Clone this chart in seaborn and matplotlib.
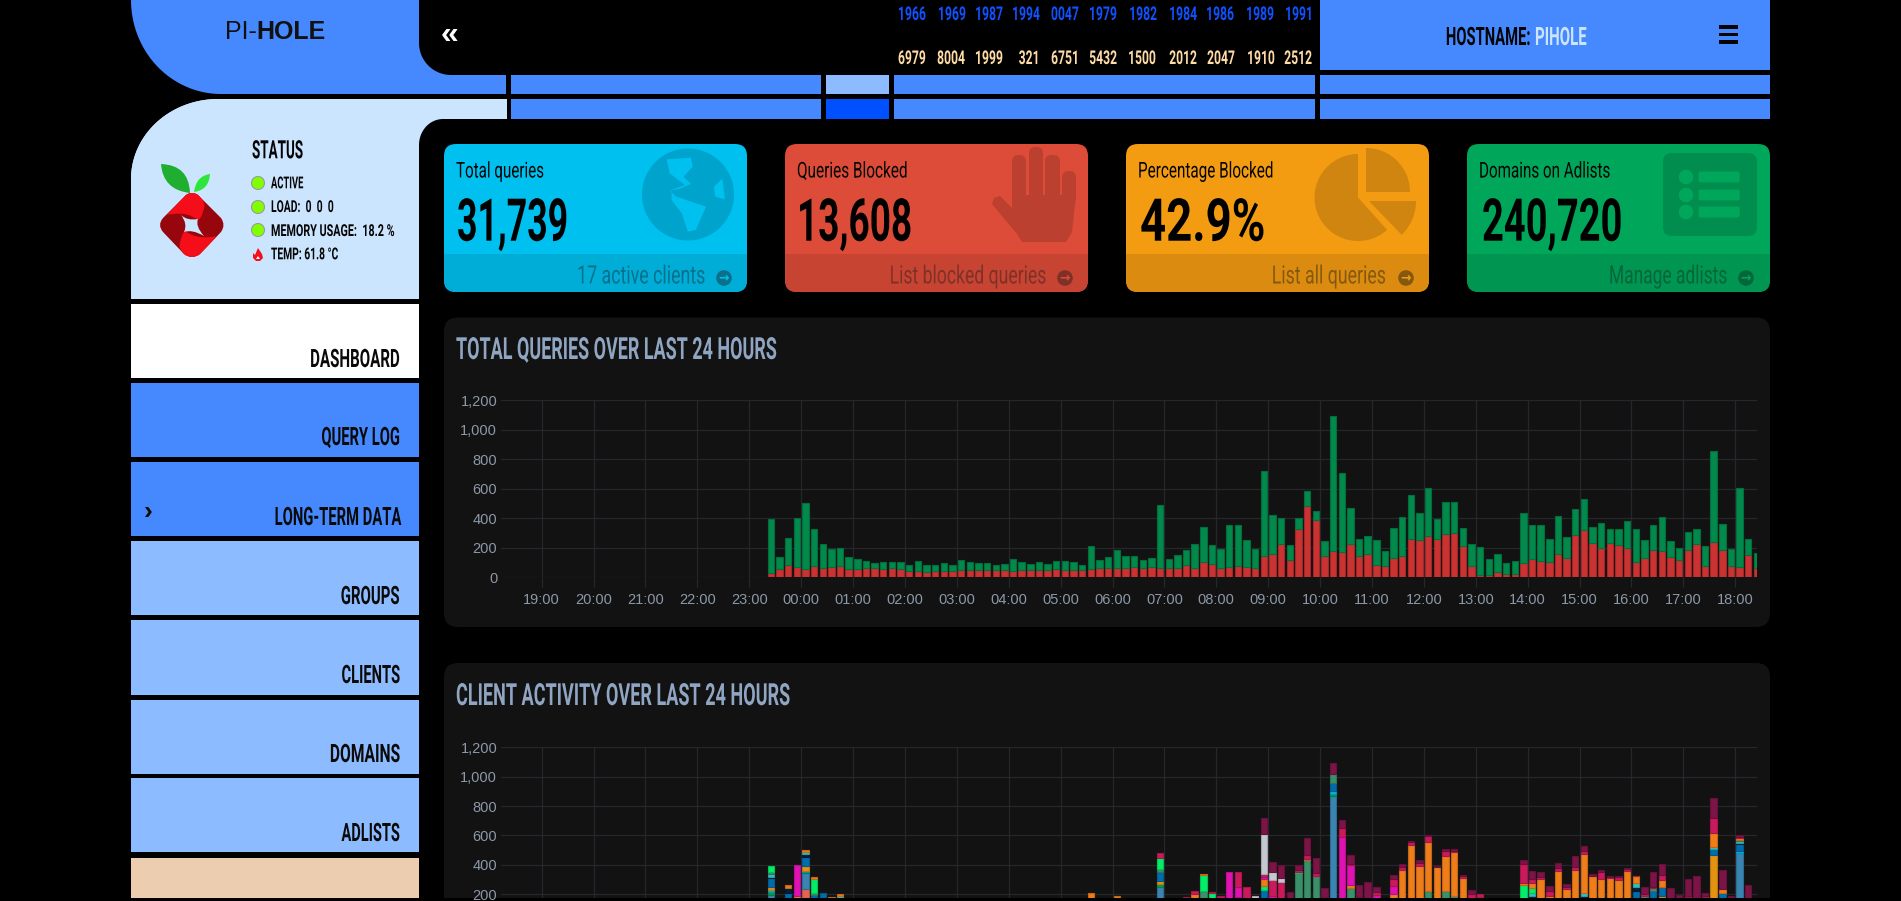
import numpy as np
import pandas as pd
import matplotlib
matplotlib.use("Agg")
import matplotlib.pyplot as plt
import seaborn as sns
from matplotlib import patches as mp
from matplotlib.path import Path
from matplotlib.patheffects import AbstractPathEffect
from matplotlib.transforms import Affine2D
import warnings, logging
warnings.filterwarnings("ignore")
logging.getLogger("matplotlib.font_manager").setLevel(logging.ERROR)

# ---------- data ----------
HOUR_LABELS = ["19:00","20:00","21:00","22:00","23:00","00:00","01:00","02:00","03:00","04:00","05:00","06:00",
               "07:00","08:00","09:00","10:00","11:00","12:00","13:00","14:00","15:00","16:00","17:00","18:00"]
Y_TICKS = [0, 200, 400, 600, 800, 1000, 1200]
FIRST_BAR_MIN = 265      # 23:25 counted from 19:00
BIN_MIN = 10

TOTAL = [395,138,267,400,504,325,224,190,201,138,124,111,97,106,102,106,86,111,84,81,99,84,115,106,97,95,84,
         88,124,102,93,102,93,108,108,104,86,210,117,140,188,142,142,117,129,488,124,151,188,228,339,217,192,353,353,253,192,
         719,423,400,219,400,585,447,244,1094,705,468,262,282,251,176,334,
         409,560,434,608,398,508,511,332,228,203,122,160,95,108,434,357,357,260,416,271,463,529,341,366,328,325,384,328,253,353,409,246,201,305,325,215,857,364,194,608,262,163]
BLOCKED = [32,59,81,68,59,75,63,72,77,59,57,61,61,57,61,54,41,41,38,41,45,45,52,47,50,47,50,
           47,45,52,47,52,52,54,52,52,47,54,63,63,61,66,72,63,70,66,66,66,81,66,104,93,66,72,79,72,66,
           142,160,228,117,330,484,389,147,179,174,228,147,160,84,77,131,
           142,262,255,282,262,294,300,210,79,18,18,38,23,20,99,124,111,106,160,133,289,323,230,201,230,217,201,106,133,185,181,140,117,188,228,77,242,188,79,68,151,66]

RED     = {4:233}
STEEL   = {0:194,4:109,45:247,65:871,112:483}
GREEN   = {0:20,4:10,45:22,65:11}
AQUA    = {0:14,4:8,65:21,112:13}
AMBER   = {0:19,4:32,45:23,103:187,109:467}
BLUE    = {0:61,2:210,4:59,5:194,6:210,45:59,57:228,65:57,100:222,102:222,103:62,109:39,110:208,112:44}
NAVY    = {0:11,2:34,4:21,7:170,88:190,94:185,100:27,112:11}
TEAL    = {0:15,3:170,4:13,8:190,88:16,94:21,100:27,109:13,112:10}
OLIVE   = {0:19,5:12,45:18,49:176,50:219,54:183,61:346,62:435,63:326,65:59,67:240,76:219,78:219,79:187,101:190,102:18,112:8}
LIME    = {0:41,5:99,45:77,50:112,51:205,57:28,61:6,87:263,88:38}
ORANGE  = {2:21,3:20,4:16,5:14,7:13,8:9,37:206,40:185,49:25,50:4,57:47,62:5,67:22,72:203,73:365,74:537,75:394,76:339,77:383,
           78:243,79:298,80:310,82:180,87:11,88:30,89:301,90:190,91:356,92:237,93:365,94:270,95:322,96:305,97:310,98:299,99:358,
           100:45,102:4,103:50,106:180,108:180,109:98,110:25,112:14}
FUCHSIA = {3:207,53:351,54:66,57:16,58:187,66:590,67:136,70:192,72:53}
CRIMSON = {45:34,48:183,49:23,51:8,52:187,54:102,55:249,57:18,58:110,59:285,61:13,62:27,63:18,64:183,66:61,67:8,68:178,70:23,
           72:47,73:18,74:15,75:20,76:38,78:32,79:11,80:13,81:201,82:19,87:134,88:29,89:16,90:32,91:22,92:12,93:18,94:20,96:44,
           97:6,98:15,99:14,100:3,101:11,102:7,103:32,106:7,108:8,109:102,112:9}
GRAY    = {56:190,57:273,58:56,59:27}
DARK    = {57:109,58:68,59:85,60:215,61:32,62:116,63:103,64:57,65:75,66:52,67:59,68:82,69:281,70:34,72:28,73:23,74:8,75:17,76:7,
           77:9,78:12,79:12,80:6,81:25,87:25,88:53,89:36,90:34,91:32,92:18,93:77,94:30,95:15,96:16,97:8,98:10,99:8,101:48,102:100,
           103:75,104:244,105:196,106:116,107:324,108:22,109:136,110:130,111:190,112:9,113:260}
CLIENT_STACK = [(RED,"#f56954"),(STEEL,"#3c8dbc"),(GREEN,"#00a65a"),(AQUA,"#00c0ef"),(AMBER,"#f39c12"),(BLUE,"#0073b7"),
                (NAVY,"#001f3f"),(TEAL,"#39cccc"),(OLIVE,"#3d9970"),(LIME,"#01ff70"),(ORANGE,"#ff851b"),(FUCHSIA,"#f012be"),
                (CRIMSON,"#d81b60"),(GRAY,"#d2d6de"),(DARK,"#85144b")]

TICKER_BLUE = ["1966","1969","1987","1994","0047","1979","1982","1984","1986","1989","1991"]
TICKER_TAN  = ["6979","8004","1999","321","6751","5432","1500","2012","2047","1910","2512"]
MENU = ["DASHBOARD","QUERY LOG","LONG-TERM DATA","GROUPS","CLIENTS","DOMAINS","ADLISTS"]

# ---------- setup ----------
sns.set_theme(style="dark", rc={"axes.facecolor": "none", "figure.facecolor": "black", "axes.grid": False})
NARROW = ["Roboto", "DejaVu Sans"]
ARIAL = ["Liberation Sans", "DejaVu Sans"]
plt.rcParams["font.family"] = ARIAL

W, H = 1901, 901
fig = plt.figure(figsize=(W/100, H/100), dpi=100, facecolor="black")
pg = fig.add_axes([0, 0, 1, 1], zorder=0)
pg.set_xlim(0, W); pg.set_ylim(H, 0); pg.axis("off")
renderer = fig.canvas.get_renderer()

BLUE_UI, LIGHT, PALE = "#4689ff", "#cce5ff", "#8cbcff"

class Tall(AbstractPathEffect):
    """Draws a text taller about its baseline, as a condensed face would look."""
    def __init__(self, sy, y0):
        super().__init__()
        self.sy, self.y0 = sy, y0
    def draw_path(self, renderer, gc, tpath, affine, rgbFace=None):
        a = affine + Affine2D().translate(0, -self.y0).scale(1, self.sy).translate(0, self.y0)
        renderer.draw_path(gc, tpath, a, rgbFace)

def rect(x0, y0, x1, y1, c, z=1):
    p = mp.Rectangle((x0, y0), x1-x0, y1-y0, fc=c, ec="none", zorder=z); pg.add_patch(p); return p

def rbox(x0, y0, x1, y1, r, c, z=1):
    p = mp.FancyBboxPatch((x0+r, y0+r), x1-x0-2*r, y1-y0-2*r, boxstyle=f"round,pad={r},rounding_size={r}",
                          fc=c, ec="none", zorder=z)
    pg.add_patch(p); return p

def poly(pts, c, z=2):
    p = mp.Polygon(pts, closed=True, fc=c, ec="none", zorder=z); pg.add_patch(p); return p

def corner(cx, cy, rx, ry, t0, t1):
    t = np.radians(np.linspace(t0, t1, 40))
    return np.c_[cx+rx*np.cos(t), cy+ry*np.sin(t)]

def txt(s, x, y, size=14, color="black", ha="left", va="center", family=ARIAL, weight="normal", z=6):
    return pg.text(x, y, s, fontsize=size, color=color, ha=ha, va=va, family=family, fontweight=weight, zorder=z)

def cond(s, x, base, width, cap, color="black", ha="left", weight="bold", z=6):
    """Condensed label: cap height and overall width in pixels, y is the baseline."""
    size = 12.0
    t = pg.text(x, base, s, fontsize=size, color=color, ha=ha, va="baseline", family=NARROW, fontweight=weight, zorder=z)
    for _ in range(2):
        size *= width/t.get_window_extent(renderer).width
        t.set_fontsize(size)
    natural_cap = size/0.72*0.711
    t.set_path_effects([Tall(cap/natural_cap, H-base)])
    return t

# ---------- frame ----------
pts = corner(221, 0, 90, 94, 180, 90)
poly(np.r_[[(506, 94), (506, 75)], [(451, 75)],
           np.c_[451-32*np.sin(np.radians(np.linspace(0, 90, 20))), 43+32*np.cos(np.radians(np.linspace(0, 90, 20)))],
           [(419, 0), (131, 0)], pts], BLUE_UI, 1)
rect(1320, 0, 1770, 70, BLUE_UI)
for y0, y1, cols in [(75, 94, [BLUE_UI, PALE, BLUE_UI, BLUE_UI]), (99, 119, [BLUE_UI, "#0050ff", BLUE_UI, BLUE_UI])]:
    for (x0, x1), c in zip([(511, 821), (826, 889), (894, 1315), (1320, 1770)], cols):
        rect(x0, y0, x1, y1, c)
pts2 = corner(218, 179, 87, 80, 180, 270)
t2 = np.radians(np.linspace(0, 90, 20))
poly(np.r_[[(131, 299), (419, 299)],
           np.c_[419+24*(1-np.cos(t2)), 145-26*np.sin(t2)],
           [(507, 119), (507, 99)], pts2[::-1]], LIGHT, 1)
poly(np.r_[pts2], LIGHT, 1)

ROWS = [(304, 378, "#ffffff"), (383, 457, BLUE_UI), (462, 536, BLUE_UI), (541, 615, PALE),
        (620, 695, PALE), (700, 774, PALE), (778, 852, PALE)]
for (y0, y1, c) in ROWS:
    rect(131, y0, 419, y1, c)
rect(131, 858, 419, 898, "#edcdb0")
for label, cy, wid in zip(MENU, [358, 436, 516, 595, 674, 753, 832], [90, 79, 126, 59, 58, 70, 58]):
    cond(label, 400, cy+9, wid, 18, ha="right", color="#0a0a0a")
txt("\u203a", 148, 512, size=19, ha="center", color="#0a0a0a", weight="bold")

# ---------- header text ----------
txt("PI-", 225, 39, size=18, va="baseline", color="#111111")
txt("HOLE", 256, 39, size=18, va="baseline", color="#111111", weight="bold")
txt("\u00ab", 450, 35, size=23, ha="center", color="white", weight="bold")
XS_B = [912, 952, 989, 1026, 1065, 1103, 1143, 1183, 1220, 1260, 1299]
XS_T = [912, 951, 989, 1029, 1065, 1103, 1142, 1183, 1221, 1261, 1298]
for s, x in zip(TICKER_BLUE, XS_B):
    cond(s, x, 20, 28, 13.5, ha="center", color="#0f52ff", weight="bold")
for s, x in zip(TICKER_TAN, XS_T):
    cond(s, x, 64, 28*len(s)/4, 13.5, ha="center", color="#ffdca6", weight="bold")
cond("HOSTNAME:", 1530, 45, 85, 18, color="#050505", ha="right")
cond("PIHOLE", 1535, 45, 52, 18, color=LIGHT, weight="bold")
for y in (25, 32.5, 40):
    rect(1718.5, y, 1737.5, y+3.5, "#050505")

# ---------- status block ----------
cond("STATUS", 252, 158.3, 51, 18, color="#050505")
for s, y, wid in [("ACTIVE", 188.3, 32), ("LOAD:  0  0  0", 212, 62), ("MEMORY USAGE:  18.2 %", 236, 123), ("TEMP: 61.8 \u00b0C", 259.3, 67)]:
    cond(s, 271, y, wid, 11.7, color="#050505")
for y in (183, 207, 230):
    pg.add_patch(mp.Circle((258, y), 6.5, fc="#7fff00", ec="#9a9a9a", lw=0.8, zorder=3))
poly([(258, 248), (262, 254), (263, 258), (260, 261), (256, 261), (253, 258), (253, 253), (255, 255)], "#f4101a", 3)
poly([(258, 256), (260, 259), (256, 259)], "#ffffff", 4)

def bez(points, c, z=3):
    verts, codes = [points[0]], [Path.MOVETO]
    for a, b in points[1:]:
        verts += [a, b]; codes += [Path.CURVE3, Path.CURVE3]
    pg.add_patch(mp.PathPatch(Path(verts, codes), fc=c, ec="none", zorder=z))

# leaves
bez([(161, 164), ((189, 165), (190, 193)), ((163, 190), (161, 164))], "#1fae30")
bez([(194, 192), ((196, 176), (210, 174)), ((209, 190), (194, 192))], "#2ee63b")
# berry
bez([(192, 193), ((197, 193), (200, 197)), ((221, 218), (221, 218)), ((226, 225), (221, 232)), ((200, 254), (200, 254)),
     ((192, 260), (184, 254)), ((163, 232), (163, 232)), ((157, 225), (163, 218)), ((184, 197), (184, 197)), ((187, 193), (192, 193))], "#96060c")
bez([(192, 193), ((197, 193), (200, 197)), ((206, 203), (204, 208)), ((202, 218), (198, 220)), ((188, 212), (174, 214)), ((170, 214), (167, 215)),
     ((176, 205), (184, 197)), ((187, 193), (192, 193))], "#f60d1a", 4)
bez([(192, 257), ((187, 257), (184, 254)), ((178, 248), (180, 243)), ((182, 233), (185, 231)), ((196, 239), (210, 237)), ((214, 237), (217, 236)),
     ((208, 246), (200, 254)), ((197, 257), (192, 257))], "#f60d1a", 4)
bez([(181, 215), ((187, 221), (198, 219)), ((195, 226), (204, 236)), ((192, 229), (184, 232)), ((188, 224), (181, 215))], LIGHT, 5)

# ---------- stat cards ----------
CARD_X = [(444, 747), (785, 1088), (1126, 1429), (1467, 1770)]
CARD_C = ["#00c0ef", "#dd4b39", "#f39c12", "#00a65a"]
FOOT_C = ["#00add7", "#c74433", "#db8c10", "#009551"]
ICON_C = ["#00a3cb", "#bc4030", "#cf8510", "#008d4d"]
TEXT_C = ["#08708b", "#7e3227", "#84590f", "#05663a"]
HEADS = [("Total queries", 456, 88), ("Queries Blocked", 797, 110), ("Percentage Blocked", 1138, 136), ("Domains on Adlists", 1479, 131)]
VALUES = [("31,739", 457, 111), ("13,608", 797, 115), ("42.9%", 1140, 125), ("240,720", 1482, 140)]
FOOTS = [("17 active clients", 705, 129, 724), ("List blocked queries", 1046, 157, 1065), ("List all queries", 1386, 114, 1406), ("Manage adlists", 1727, 118, 1746)]
for (x0, x1), c, fc, tc, h, v, f in zip(CARD_X, CARD_C, FOOT_C, TEXT_C, HEADS, VALUES, FOOTS):
    card = rbox(x0, 144, x1, 292, 12, c, 2)
    foot = rect(x0, 254, x1, 292, fc, 3); foot.set_clip_path(card)
    cond(h[0], h[1], 177.5, h[2], 15.5, color="#050505", weight="normal")
    cond(v[0], v[1], 240.7, v[2], 42, color="#000000")
    cond(f[0], f[1], 283.5, f[2], 18, ha="right", color=tc, weight="normal")
    pg.add_patch(mp.Circle((f[3], 278), 7.8, fc=tc, ec="none", zorder=6))
    txt("\u2192", f[3], 277.5, size=9, ha="center", family=["DejaVu Sans"], color=c, weight="bold", z=7)

# globe
pg.add_patch(mp.Circle((688, 194.5), 46, fc=ICON_C[0], ec="none", zorder=4))
def z1(pts):
    return [(x/1.65, y/3) for x, y in pts]
poly(z1([(1100,478),(1140,473),(1143,500),(1128,530),(1140,552),(1122,566),(1105,572),(1116,590),(1165,620),(1148,690),(1135,695),(1125,640),(1108,600),(1108,570),(1130,555),(1105,520)]), CARD_C[0], 5)
poly(z1([(1178,560),(1192,535),(1196,598),(1180,590)]), CARD_C[0], 5)
# hand
HC = ICON_C[1]
for x0, x1, top in [(1012, 1026, 155), (1029, 1043, 147), (1045, 1060, 155), (1062, 1076, 171)]:
    rbox(x0, top, x1, 205, 6.5, HC, 4)
poly([(1012, 195), (1076, 195), (1072, 232), (1066, 242), (1022, 242), (1017, 234), (992, 204), (994, 198), (1000, 196), (1012, 208)], HC, 4)
# pie (the page's y axis points down)
PC = ICON_C[2]
pg.add_patch(mp.Wedge((1358, 197.5), 43.5, 48, 270, fc=PC, ec="none", zorder=4))
pg.add_patch(mp.Wedge((1366, 192), 44, 270, 360, fc=PC, ec="none", zorder=4))
pg.add_patch(mp.Wedge((1369, 201), 47, 0, 46, fc=PC, ec="none", zorder=4))
# list
rbox(1663, 153, 1757, 236, 9, ICON_C[3], 4)
for y in (177, 195, 212):
    pg.add_patch(mp.Circle((1686, y), 7.3, fc=CARD_C[3], ec="none", zorder=5))
    rbox(1698.5, y-5.5, 1739.7, y+5.5, 2, CARD_C[3], 5)

# ---------- chart panels ----------
rbox(444, 317.5, 1770, 627, 14, "#121212", 2)
rbox(444, 663, 1770, 960, 14, "#121212", 2)
rect(0, 898, W, H, "#000000", 10)
TITLE_C = "#8fa5c2"
cond("TOTAL QUERIES OVER LAST 24 HOURS", 456, 359, 320, 21.7, color=TITLE_C)
cond("CLIENT ACTIVITY OVER LAST 24 HOURS", 456, 705, 333, 21.7, color=TITLE_C)

X_L, X_R = 501.4, 1757
X0_PX, PX_PER_MIN = 541.6, (1735.3-541.6)/(23*60)
minutes = FIRST_BAR_MIN + BIN_MIN*np.arange(len(TOTAL))

def make_axes(y_top, y_bot):
    ax = fig.add_axes([X_L/W, 1-y_bot/H, (X_R-X_L)/W, (y_bot-y_top)/H], zorder=2)
    ax.patch.set_alpha(0)
    return ax

def finish(ax, ymin, show_x):
    ax.set_xlim((X_L-X0_PX)/PX_PER_MIN, (X_R-X0_PX)/PX_PER_MIN)
    ax.set_ylim(ymin, 1200)
    ax.set_xticks(60*np.arange(24))
    ax.set_yticks([t for t in Y_TICKS if t >= ymin])
    ax.set_xticklabels(HOUR_LABELS if show_x else [""]*24)
    ax.set_yticklabels([f"{t:,}" for t in Y_TICKS if t >= ymin])
    ax.set_xlabel(""); ax.set_ylabel("")
    ax.grid(True, color="#24282d", lw=0.9, zorder=0)
    ax.set_axisbelow(True)
    for s in ax.spines.values():
        s.set_visible(False)
    ax.tick_params(axis="x", length=7.2 if show_x else 0, width=0.9, color="#24282d", colors="#8c98a8", labelsize=10.5, pad=4, bottom=show_x)
    ax.tick_params(axis="y", length=0, colors="#8c98a8", labelsize=10.5, pad=3, left=False)
    for lab in ax.get_xticklabels()+ax.get_yticklabels():
        lab.set_family(ARIAL)
        lab.set_color("#8c98a8")

def draw(ax, values, bottom, fill, edge):
    sns.barplot(x=minutes, y=values, native_scale=True, errorbar=None, width=0.74, color=fill, saturation=1,
                edgecolor=edge, linewidth=0.8, bottom=bottom, ax=ax, legend=False, zorder=3)

def blend(c, a=0.9, bg=(0.07, 0.07, 0.07)):
    return tuple(a*v+(1-a)*b for v, b in zip(matplotlib.colors.to_rgb(c), bg))

def shade(c, k=0.8):
    return tuple(v*k for v in matplotlib.colors.to_rgb(c))

# queries over time
ax1 = make_axes(400.3, 577.3)
total = np.array(TOTAL, float); blocked = np.array(BLOCKED, float)
f_red, f_green = "#cb3232", "#03894b"
draw(ax1, blocked, np.zeros_like(blocked), f_red, shade(f_red))
draw(ax1, total-blocked, blocked, f_green, shade(f_green))
finish(ax1, 0, True)

# client activity, clipped by the end of the page
y_clip = 898
y0_px = 923.5
ymin2 = (y0_px-y_clip)/(146.7/1000)
ax2 = make_axes(747.3, y_clip)
base = np.zeros(len(TOTAL))
for series, colour in CLIENT_STACK:
    vals = np.zeros(len(TOTAL))
    for i, v in series.items():
        vals[i] = v
    f = blend(colour, 0.93)
    draw(ax2, vals, base.copy(), f, shade(f, 0.82))
    base += vals
finish(ax2, ymin2, False)
for p in ax2.patches:
    if p.get_height() == 0:
        p.set_visible(False)

fig.savefig("out.png", dpi=100, facecolor="black")
